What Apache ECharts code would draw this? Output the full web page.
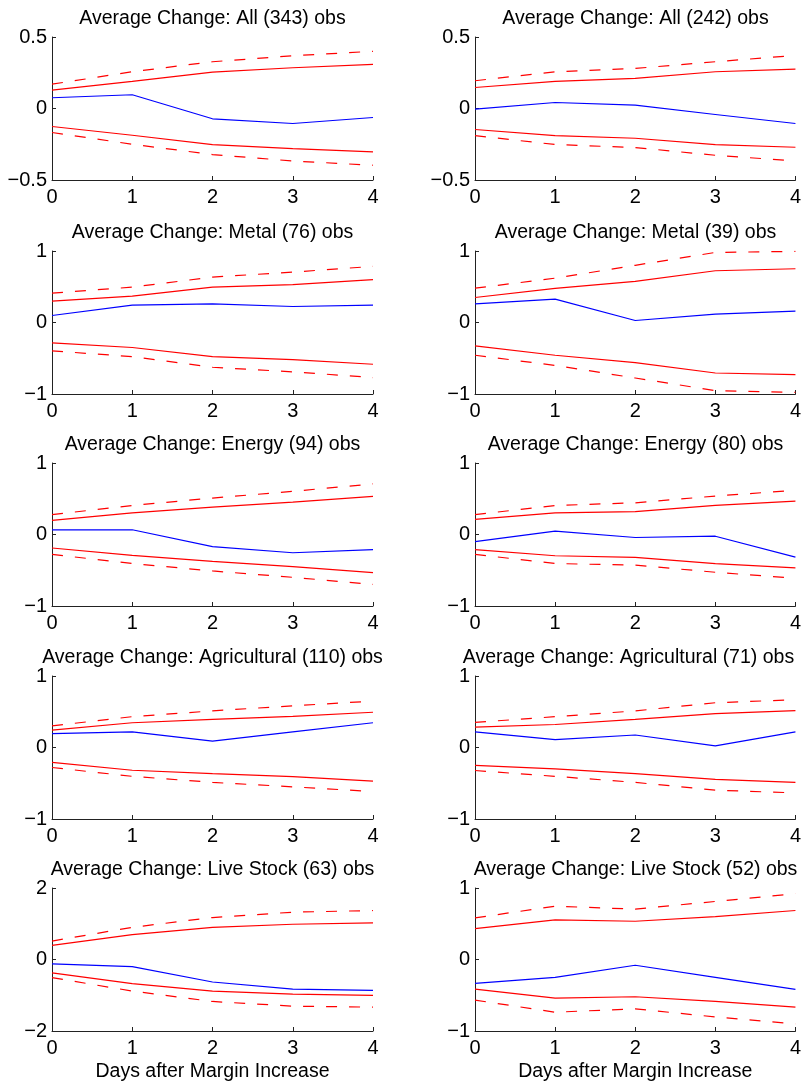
<!DOCTYPE html>
<html>
<head>
<meta charset="utf-8">
<title>Average Change after Margin Increase</title>
<script src="https://cdn.jsdelivr.net/npm/echarts@6/dist/echarts.min.js"></script>
<style>
    html, body {margin: 0; padding: 0; background: #fff;}
    #main {width: 804px; height: 1083px;}
</style>
</head>
<body>
<div id="main"></div>
<script>
// Days after margin increase (x axis)
const days = [0, 1, 2, 3, 4];

// All contracts, first sample (343 obs)
const allA_mean = [0.075, 0.096, -0.072, -0.105, -0.063];
const allA_hi = [0.128, 0.19, 0.255, 0.285, 0.308];
const allA_lo = [-0.126, -0.187, -0.252, -0.28, -0.304];
const allA_hiOuter = [0.17, 0.257, 0.327, 0.369, 0.40];
const allA_loOuter = [-0.168, -0.25, -0.322, -0.367, -0.397];

// All contracts, second sample (242 obs)
const allB_mean = [-0.005, 0.042, 0.023, -0.042, -0.105];
const allB_hi = [0.147, 0.19, 0.21, 0.257, 0.276];
const allB_lo = [-0.147, -0.19, -0.208, -0.252, -0.271];
const allB_hiOuter = [0.194, 0.257, 0.28, 0.327, 0.371];
const allB_loOuter = [-0.19, -0.252, -0.273, -0.327, -0.367];

// Metal (76 obs)
const metalA_mean = [0.098, 0.243, 0.26, 0.224, 0.243];
const metalA_hi = [0.30, 0.37, 0.495, 0.53, 0.60];
const metalA_lo = [-0.285, -0.35, -0.477, -0.519, -0.584];
const metalA_hiOuter = [0.41, 0.495, 0.635, 0.705, 0.785];
const metalA_loOuter = [-0.397, -0.477, -0.626, -0.69, -0.77];

// Metal (39 obs)
const metalB_mean = [0.26, 0.327, 0.028, 0.117, 0.159];
const metalB_hi = [0.35, 0.477, 0.575, 0.724, 0.752];
const metalB_lo = [-0.327, -0.458, -0.56, -0.706, -0.729];
const metalB_hiOuter = [0.48, 0.62, 0.80, 0.98, 0.995];
const metalB_loOuter = [-0.458, -0.60, -0.776, -0.953, -0.977];

// Energy (94 obs)
const energyA_mean = [0.066, 0.066, -0.17, -0.255, -0.212];
const energyA_hi = [0.198, 0.302, 0.382, 0.453, 0.533];
const energyA_lo = [-0.189, -0.292, -0.377, -0.448, -0.533];
const energyA_hiOuter = [0.278, 0.406, 0.51, 0.604, 0.708];
const energyA_loOuter = [-0.278, -0.406, -0.51, -0.599, -0.698];

// Energy (80 obs)
const energyB_mean = [-0.099, 0.047, -0.042, -0.024, -0.316];
const energyB_hi = [0.212, 0.302, 0.32, 0.406, 0.467];
const energyB_lo = [-0.212, -0.297, -0.321, -0.406, -0.467];
const energyB_hiOuter = [0.278, 0.406, 0.443, 0.538, 0.618];
const energyB_loOuter = [-0.278, -0.406, -0.429, -0.528, -0.613];

// Agricultural (110 obs)
const agriA_mean = [0.194, 0.218, 0.09, 0.218, 0.346];
const agriA_hi = [0.242, 0.346, 0.393, 0.436, 0.493];
const agriA_lo = [-0.209, -0.318, -0.365, -0.408, -0.469];
const agriA_hiOuter = [0.303, 0.431, 0.512, 0.583, 0.649];
const agriA_loOuter = [-0.28, -0.403, -0.488, -0.55, -0.616];

// Agricultural (71 obs)
const agriB_mean = [0.218, 0.109, 0.175, 0.024, 0.218];
const agriB_hi = [0.284, 0.322, 0.393, 0.474, 0.517];
const agriB_lo = [-0.251, -0.299, -0.365, -0.445, -0.488];
const agriB_hiOuter = [0.351, 0.431, 0.512, 0.626, 0.668];
const agriB_loOuter = [-0.322, -0.403, -0.488, -0.597, -0.635];

// Live Stock (63 obs)
const liveA_mean = [-0.122, -0.197, -0.629, -0.826, -0.864];
const liveA_hi = [0.394, 0.695, 0.90, 0.986, 1.023];
const liveA_lo = [-0.376, -0.676, -0.883, -0.967, -1.005];
const liveA_hiOuter = [0.516, 0.90, 1.174, 1.324, 1.37];
const liveA_loOuter = [-0.507, -0.883, -1.174, -1.305, -1.333];

// Live Stock (52 obs)
const liveB_mean = [-0.333, -0.249, -0.08, -0.249, -0.418];
const liveB_hi = [0.432, 0.554, 0.535, 0.60, 0.685];
const liveB_lo = [-0.413, -0.54, -0.521, -0.587, -0.667];
const liveB_hiOuter = [0.582, 0.746, 0.704, 0.812, 0.92];
const liveB_loOuter = [-0.568, -0.737, -0.69, -0.803, -0.901];

// Panels in reading order: title, y range, y tick step, lines
const panels = [
    {title: 'Average Change: All (343) obs', yMin: -0.5, yMax: 0.5, yStep: 0.5,
        lines: [allA_mean, allA_hi, allA_lo, allA_hiOuter, allA_loOuter]},
    {title: 'Average Change: All (242) obs', yMin: -0.5, yMax: 0.5, yStep: 0.5,
        lines: [allB_mean, allB_hi, allB_lo, allB_hiOuter, allB_loOuter]},
    {title: 'Average Change: Metal (76) obs', yMin: -1, yMax: 1, yStep: 1,
        lines: [metalA_mean, metalA_hi, metalA_lo, metalA_hiOuter, metalA_loOuter]},
    {title: 'Average Change: Metal (39) obs', yMin: -1, yMax: 1, yStep: 1,
        lines: [metalB_mean, metalB_hi, metalB_lo, metalB_hiOuter, metalB_loOuter]},
    {title: 'Average Change: Energy (94) obs', yMin: -1, yMax: 1, yStep: 1,
        lines: [energyA_mean, energyA_hi, energyA_lo, energyA_hiOuter, energyA_loOuter]},
    {title: 'Average Change: Energy (80) obs', yMin: -1, yMax: 1, yStep: 1,
        lines: [energyB_mean, energyB_hi, energyB_lo, energyB_hiOuter, energyB_loOuter]},
    {title: 'Average Change: Agricultural (110) obs', yMin: -1, yMax: 1, yStep: 1,
        lines: [agriA_mean, agriA_hi, agriA_lo, agriA_hiOuter, agriA_loOuter]},
    {title: 'Average Change: Agricultural (71) obs', yMin: -1, yMax: 1, yStep: 1,
        lines: [agriB_mean, agriB_hi, agriB_lo, agriB_hiOuter, agriB_loOuter]},
    {title: 'Average Change: Live Stock (63) obs', yMin: -2, yMax: 2, yStep: 2,
        lines: [liveA_mean, liveA_hi, liveA_lo, liveA_hiOuter, liveA_loOuter]},
    {title: 'Average Change: Live Stock (52) obs', yMin: -1, yMax: 1, yStep: 1,
        lines: [liveB_mean, liveB_hi, liveB_lo, liveB_hiOuter, liveB_loOuter]}
];

const xAxisTitle = 'Days after Margin Increase';

const font = 'Arial, "Liberation Sans", Helvetica, sans-serif';
const axisColor = '#222';
const colLeft = [52, 475];
const colWidth = 321;
const rowTop = [37, 251, 463, 676, 888];
const rowHeight = 143;
// the long title at the figure's right edge sits a little left of centre
const titleNudge = {7: -7};

// MATLAB style minus sign
function tickLabel(v) {
    return String(v).replace('-', '\u2212');
}

let grids = [], titles = [], xAxes = [], yAxes = [], series = [];

panels.forEach((p, i) => {
    let col = i % 2;
    let row = Math.floor(i / 2);
    let left = colLeft[col];
    let top = rowTop[row];

    grids.push({left: left, top: top, width: colWidth, height: rowHeight});

    titles.push({
        text: p.title,
        left: left + colWidth / 2 + (titleNudge[i] || 0),
        top: top - 28,
        padding: 0,
        textAlign: 'center',
        textStyle: {fontFamily: font, fontSize: 19.5, fontWeight: 'normal', color: '#000'}
    });

    let isBottom = row === rowTop.length - 1;
    xAxes.push({
        type: 'value',
        gridIndex: i,
        min: 0,
        max: 4,
        interval: 1,
        name: isBottom ? xAxisTitle : '',
        nameLocation: 'middle',
        nameGap: 31,
        nameTextStyle: {fontFamily: font, fontSize: 19.5, color: '#000'},
        axisLine: {onZero: false, lineStyle: {color: axisColor, width: 1}},
        axisTick: {inside: true, length: 4, lineStyle: {color: axisColor}},
        axisLabel: {fontFamily: font, fontSize: 20, color: '#000', margin: 7},
        splitLine: {show: false}
    });

    yAxes.push({
        type: 'value',
        gridIndex: i,
        min: p.yMin,
        max: p.yMax,
        interval: p.yStep,
        axisLine: {show: true, onZero: false, lineStyle: {color: axisColor, width: 1}},
        axisTick: {show: true, inside: true, length: 4, lineStyle: {color: axisColor}},
        axisLabel: {fontFamily: font, fontSize: 20, color: '#000', margin: 5, formatter: tickLabel},
        splitLine: {show: false}
    });

    // mean in blue, inner band solid red, outer band dashed red
    let styles = [
        {color: '#0000ff', type: 'solid'},
        {color: '#ff0000', type: 'solid'},
        {color: '#ff0000', type: 'solid'},
        {color: '#ff0000', type: [11, 12]},
        {color: '#ff0000', type: [11, 12]}
    ];
    p.lines.forEach((vals, k) => {
        series.push({
            type: 'line',
            xAxisIndex: i,
            yAxisIndex: i,
            data: days.map((d, j) => [d, vals[j]]),
            showSymbol: false,
            silent: true,
            lineStyle: {color: styles[k].color, type: styles[k].type, width: 1.2},
            itemStyle: {color: styles[k].color}
        });
    });
});

let myChart = echarts.init(document.getElementById('main'), null, {renderer: 'canvas'});

myChart.setOption({
    animation: false,
    backgroundColor: '#fff',
    title: titles,
    grid: grids,
    xAxis: xAxes,
    yAxis: yAxes,
    series: series
});
</script>
</body>
</html>
